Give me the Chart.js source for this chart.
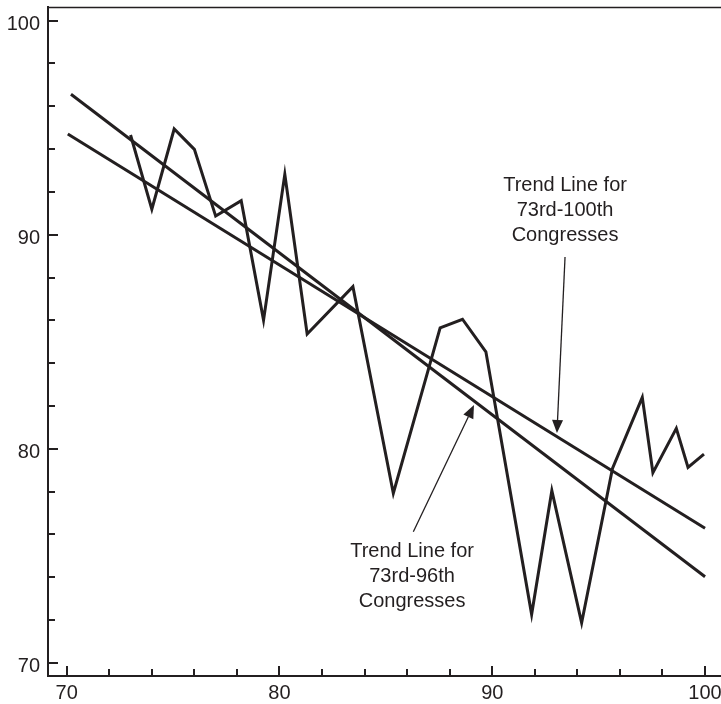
<!DOCTYPE html>
<html><head><meta charset="utf-8">
<script src="https://cdn.jsdelivr.net/npm/chart.js@4/dist/chart.umd.min.js"></script>
<style>html,body{margin:0;padding:0;background:#fff}#wrap{width:721px;height:704px}</style>
</head><body><div id="wrap"><canvas id="c" width="721" height="704"></canvas></div>
<script>
// ---- data ----
const congress = [73.0, 74.0, 75.05, 76.0, 77.0, 78.2, 79.25, 80.25, 81.3, 83.45, 85.35, 87.55, 88.6, 89.7, 91.85, 92.8, 94.2, 95.65, 97.05, 97.55, 98.65, 99.2, 99.95];
const support  = [94.66, 91.19, 94.94, 93.99, 90.87, 91.59, 86.01, 92.82, 85.36, 87.57, 77.92, 85.65, 86.05, 84.53, 72.26, 78.04, 71.87, 79.08, 82.40, 78.88, 80.95, 79.13, 79.75];
const trend100X = [70.05, 100];
const trend100Y = [94.71, 76.28];
const trend96X  = [70.2, 100];
const trend96Y  = [96.56, 74.02];
const xLabelTicks = [70, 80, 90, 100];
const yLabelTicks = [70, 80, 90, 100];
const minorTicks  = [70, 72, 74, 76, 78, 80, 82, 84, 86, 88, 90, 92, 94, 96, 98, 100];
const notes = [
  {lines: ['Trend Line for', '73rd-100th', 'Congresses'], x: 93.42, y: 92.06, tail: [93.42, 88.96], tip: [93.04, 80.73]},
  {lines: ['Trend Line for', '73rd-96th', 'Congresses'],  x: 86.23, y: 74.95, tail: [86.29, 76.12], tip: [89.14, 82.04]}
];

const INK = '#231f20';
const FONT = '"Liberation Sans", Arial, Helvetica, sans-serif';
const pts = (xs, ys) => xs.map((x, i) => ({x, y: ys[i]}));

const lineDs = (data) => ({data, showLine: true, pointRadius: 0, borderColor: INK, borderWidth: 3,
  borderJoinStyle: 'miter', borderCapStyle: 'butt', tension: 0, fill: false});

const decor = {
  id: 'decor',
  afterDraw(chart) {
    const {ctx, chartArea: a, scales: {x, y}} = chart;
    ctx.save();
    ctx.strokeStyle = INK; ctx.fillStyle = INK;
    // top frame line
    ctx.lineWidth = 1.5;
    ctx.beginPath(); ctx.moveTo(a.left, a.top + 0.5); ctx.lineTo(a.right, a.top + 0.5); ctx.stroke();
    // inward tick marks
    ctx.lineWidth = 2;
    minorTicks.forEach(v => {
      const len = xLabelTicks.includes(v) ? 10 : 7;
      const px = Math.round(x.getPixelForValue(v));
      ctx.beginPath(); ctx.moveTo(px, a.bottom); ctx.lineTo(px, a.bottom - len); ctx.stroke();
      const lenY = yLabelTicks.includes(v) ? 10 : 7;
      const py = Math.round(y.getPixelForValue(v));
      ctx.beginPath(); ctx.moveTo(a.left, py); ctx.lineTo(a.left + lenY, py); ctx.stroke();
    });
    // annotations
    ctx.font = '20px ' + FONT;
    ctx.textAlign = 'center'; ctx.textBaseline = 'alphabetic';
    notes.forEach(n => {
      const cx = x.getPixelForValue(n.x), cy = y.getPixelForValue(n.y);
      n.lines.forEach((t, i) => ctx.fillText(t, cx, cy + i * 25.2));
      const tx = x.getPixelForValue(n.tail[0]), ty = y.getPixelForValue(n.tail[1]);
      const hx = x.getPixelForValue(n.tip[0]), hy = y.getPixelForValue(n.tip[1]);
      const ang = Math.atan2(hy - ty, hx - tx);
      const L = 13, W = 5.5;
      const bx = hx - L * Math.cos(ang), by = hy - L * Math.sin(ang);
      ctx.lineWidth = 1.3;
      ctx.beginPath(); ctx.moveTo(tx, ty); ctx.lineTo(bx, by); ctx.stroke();
      ctx.beginPath();
      ctx.moveTo(hx, hy);
      ctx.lineTo(bx + W * Math.sin(ang), by - W * Math.cos(ang));
      ctx.lineTo(bx - W * Math.sin(ang), by + W * Math.cos(ang));
      ctx.closePath(); ctx.fill();
    });
    ctx.restore();
  }
};

new Chart(document.getElementById('c'), {
  type: 'scatter',
  data: {datasets: [
    lineDs(pts(congress, support)),
    lineDs(pts(trend100X, trend100Y)),
    lineDs(pts(trend96X, trend96Y))
  ]},
  options: {
    responsive: false, animation: false, devicePixelRatio: 1,
    layout: {padding: {top: 7, left: 0, right: 0, bottom: 0}},
    plugins: {legend: {display: false}, tooltip: {enabled: false}},
    scales: {
      x: {
        type: 'linear', position: 'bottom', min: 69.12, max: 100.75,
        grid: {display: false, drawTicks: false},
        border: {display: true, color: INK, width: 2},
        ticks: {color: INK, font: {family: FONT, size: 20}, padding: 5, maxRotation: 0, autoSkip: false},
        afterBuildTicks: s => { s.ticks = xLabelTicks.map(v => ({value: v})); },
        afterFit: s => { s.height = 28; s.paddingLeft = 0; s.paddingRight = 0; s.paddingTop = 0; s.paddingBottom = 0; }
      },
      y: {
        type: 'linear', position: 'left', min: 69.38, max: 100.64,
        grid: {display: false, drawTicks: false},
        border: {display: true, color: INK, width: 2},
        ticks: {color: INK, font: {family: FONT, size: 20}, padding: 8, labelOffset: 4, autoSkip: false},
        afterBuildTicks: s => { s.ticks = yLabelTicks.map(v => ({value: v})); },
        afterFit: s => { s.width = 48; s.paddingLeft = 0; s.paddingRight = 0; s.paddingTop = 0; s.paddingBottom = 0; }
      }
    }
  },
  plugins: [decor]
});
</script>
</body></html>
